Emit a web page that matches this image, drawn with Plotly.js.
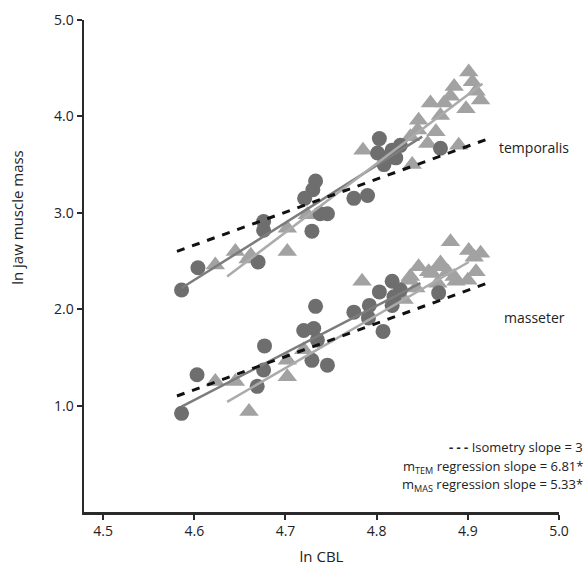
<!DOCTYPE html>
<html>
<head>
<meta charset="utf-8">
<script src="https://cdn.plot.ly/plotly-3.0.1.min.js"></script>
<style>html,body{margin:0;padding:0;background:#fff;}#chart{width:588px;height:573px;}</style>
</head>
<body>
<div id="chart"></div>
<script>
// Temporalis – circles (darker group)
const temCircX = [4.586,4.604,4.670,4.676,4.676,4.729,4.733,4.730,4.721,4.738,4.746,4.775,4.790,4.803,4.801,4.808,4.817,4.826,4.821,4.812,4.870];
const temCircY = [2.20,2.43,2.49,2.91,2.82,2.81,3.33,3.24,3.15,2.99,2.99,3.15,3.18,3.77,3.62,3.50,3.65,3.70,3.57,3.57,3.67];
// Temporalis – triangles (lighter group)
const temTriX = [4.623,4.645,4.659,4.662,4.702,4.702,4.724,4.785,4.839,4.890,4.901,4.905,4.885,4.914,4.909,4.881,4.874,4.859,4.898,4.870,4.846,4.845,4.865,4.856,4.837];
const temTriY = [2.46,2.60,2.52,2.56,2.60,2.84,2.98,3.65,3.50,3.70,4.46,4.36,4.31,4.17,4.26,4.21,4.14,4.14,4.08,4.01,3.96,3.86,3.84,3.72,3.79];
// Masseter – circles
const masCircX = [4.586,4.603,4.669,4.676,4.677,4.720,4.731,4.733,4.735,4.729,4.746,4.775,4.791,4.792,4.803,4.807,4.817,4.819,4.826,4.817,4.868];
const masCircY = [0.92,1.32,1.20,1.37,1.62,1.78,1.80,2.03,1.68,1.47,1.42,1.97,1.91,2.04,2.18,1.77,2.29,2.13,2.20,2.04,2.17];
// Masseter – triangles
const masTriX = [4.623,4.645,4.660,4.702,4.702,4.720,4.784,4.830,4.835,4.837,4.843,4.846,4.857,4.861,4.867,4.868,4.870,4.878,4.881,4.885,4.887,4.900,4.901,4.907,4.909,4.914];
const masTriY = [1.25,1.25,0.94,1.47,1.30,1.58,2.29,2.10,2.30,2.34,2.22,2.44,2.39,2.37,2.27,2.44,2.48,2.39,2.70,2.34,2.29,2.30,2.61,2.54,2.39,2.58];
// Fitted / reference lines (end points as drawn)
const isoTemX = [4.581,4.923], isoTemY = [2.60,3.77];
const isoMasX = [4.581,4.927], isoMasY = [1.10,2.29];
const regTemCircX = [4.586,4.850], regTemCircY = [2.22,3.79];
const regTemTriX = [4.636,4.916], regTemTriY = [2.34,4.34];
const regMasCircX = [4.586,4.848], regMasCircY = [0.99,2.27];
const regMasTriX = [4.636,4.901], regMasTriY = [1.04,2.49];
// Ticks
const xTicks = [4.5,4.6,4.7,4.8,4.9,5.0];
const xTickText = ["4.5","4.6","4.7","4.8","4.9","5.0"];
const yTicks = [1,2,3,4,5];
const yTickText = ["1.0","2.0","3.0","4.0","5.0"];

const DARK = '#6e6e6e', LIGHT = '#a2a2a2';
const DLINE = '#7c7c7c', LLINE = '#ababab';

function pts(x,y,sym,col,size){return {x:x,y:y,type:'scatter',mode:'markers',marker:{symbol:sym,color:col,size:size,line:{width:0}},hoverinfo:'skip',showlegend:false};}
function ln(x,y,col,w,dash){return {x:x,y:y,type:'scatter',mode:'lines',line:{color:col,width:w,dash:dash||'solid'},hoverinfo:'skip',showlegend:false};}

const traces = [
  pts(temTriX,temTriY,'triangle-up',LIGHT,17),
  pts(temCircX,temCircY,'circle',DARK,15),
  pts(masTriX,masTriY,'triangle-up',LIGHT,17),
  pts(masCircX,masCircY,'circle',DARK,15),
  ln(regTemCircX,regTemCircY,DLINE,2.5),
  ln(regTemTriX,regTemTriY,LLINE,2.5),
  ln(regMasCircX,regMasCircY,DLINE,2.5),
  ln(regMasTriX,regMasTriY,LLINE,2.5),
  ln(isoTemX,isoTemY,'#111',3,'8px,8px'),
  ln(isoMasX,isoMasY,'#111',3,'8px,8px')
];

const F = 'Open Sans, Noto Sans, sans-serif';
const layout = {
  width:588, height:573,
  margin:{l:84,r:29,t:20,b:61},
  paper_bgcolor:'#fff', plot_bgcolor:'#fff',
  font:{family:F,color:'#222',size:13},
  showlegend:false,
  xaxis:{range:[4.479,5.0],tickvals:xTicks,ticktext:xTickText,showgrid:false,zeroline:false,
    showline:true,linecolor:'#2a2a2a',linewidth:2.5,ticks:'outside',ticklen:5,tickwidth:2,tickcolor:'#2a2a2a',
    tickfont:{size:14,family:F,color:'#222'},
    title:{text:'ln CBL',font:{size:15,family:F,color:'#222'},standoff:12}},
  yaxis:{range:[-0.103,5.0],tickvals:yTicks,ticktext:yTickText,showgrid:false,zeroline:false,
    showline:true,linecolor:'#2a2a2a',linewidth:2.5,ticks:'outside',ticklen:5,tickwidth:2,tickcolor:'#2a2a2a',
    tickfont:{size:14,family:F,color:'#222'}},
  annotations:[
    {xref:'paper',yref:'paper',x:-0.141,y:0.598,text:'ln jaw muscle mass',textangle:-90,showarrow:false,font:{size:15,family:F,color:'#222'},xanchor:'center',yanchor:'middle'},
    {xref:'x',yref:'y',x:4.932,y:3.68,text:'temporalis',showarrow:false,xanchor:'left',yanchor:'middle',font:{size:14,family:F,color:'#222'}},
    {xref:'x',yref:'y',x:4.937,y:1.91,text:'masseter',showarrow:false,xanchor:'left',yanchor:'middle',font:{size:14,family:F,color:'#222'}},
    {xref:'paper',yref:'paper',x:1.055,y:0.132,text:'<b>- - -</b> Isometry slope = 3',showarrow:false,xanchor:'right',yanchor:'middle',font:{size:13,family:F,color:'#222'}},
    {xref:'paper',yref:'paper',x:1.055,y:0.091,text:'m<sub>TEM</sub> regression slope = 6.81*',showarrow:false,xanchor:'right',yanchor:'middle',font:{size:13,family:F,color:'#222'}},
    {xref:'paper',yref:'paper',x:1.055,y:0.055,text:'m<sub>MAS</sub> regression slope = 5.33*',showarrow:false,xanchor:'right',yanchor:'middle',font:{size:13,family:F,color:'#222'}}
  ]
};
Plotly.newPlot('chart',traces,layout,{displayModeBar:false,staticPlot:true});
</script>
</body>
</html>
